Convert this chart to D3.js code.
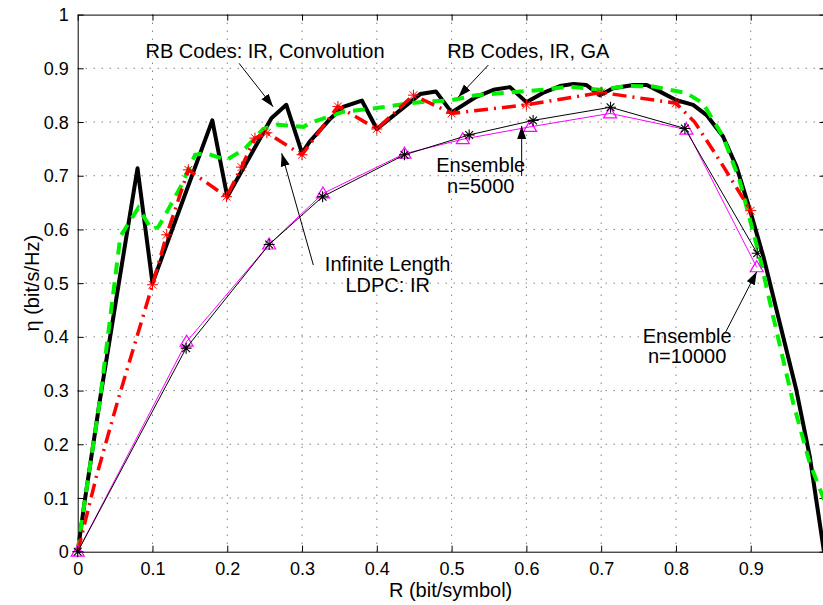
<!DOCTYPE html>
<html>
<head>
<meta charset="utf-8">
<script src="https://cdn.jsdelivr.net/npm/d3@7"></script>
<style>
  body { margin: 0; background: #fff; }
  svg { display: block; font-family: "Liberation Sans", Arial, Helvetica, sans-serif; }
</style>
</head>
<body>
<div id="chart"></div>
<script>
// Tick values and labels (the "1" at the far right sits off the picture's edge)
const xTicks = [0, 0.1, 0.2, 0.3, 0.4, 0.5, 0.6, 0.7, 0.8, 0.9, 1];
const xTickLabels = ["0", "0.1", "0.2", "0.3", "0.4", "0.5", "0.6", "0.7", "0.8", "0.9", ""];
const yTicks = [0, 0.1, 0.2, 0.3, 0.4, 0.5, 0.6, 0.7, 0.8, 0.9, 1];
const yTickLabels = ["0", "0.1", "0.2", "0.3", "0.4", "0.5", "0.6", "0.7", "0.8", "0.9", "1"];

// RB Codes: IR, Convolution (thick black)
const convR = [0, 0.01, 0.03, 0.055, 0.08, 0.1, 0.18, 0.2, 0.259, 0.279, 0.3, 0.31, 0.337, 0.355, 0.38, 0.4,
  0.426, 0.458, 0.479, 0.5, 0.533, 0.556, 0.578, 0.6, 0.622, 0.645, 0.663, 0.68, 0.698, 0.716, 0.743, 0.761,
  0.778, 0.8, 0.823, 0.841, 0.863, 0.881, 0.899, 0.917, 0.939, 0.961, 0.979, 0.998];
const convEta = [0, 0.1, 0.285, 0.5, 0.714, 0.5, 0.803, 0.661, 0.807, 0.832, 0.742, 0.763, 0.805, 0.828, 0.84, 0.787,
  0.816, 0.852, 0.857, 0.818, 0.847, 0.86, 0.865, 0.837, 0.854, 0.867, 0.871, 0.869, 0.85, 0.863, 0.869, 0.869,
  0.857, 0.841, 0.832, 0.813, 0.773, 0.717, 0.636, 0.549, 0.425, 0.301, 0.177, 0];

// RB Codes, IR, GA (green dashed)
const gaR = [0, 0.01, 0.03, 0.057, 0.081, 0.099, 0.108, 0.123, 0.139, 0.157, 0.172, 0.199, 0.224, 0.248, 0.266,
  0.302, 0.31, 0.355, 0.4, 0.444, 0.467, 0.498, 0.533, 0.578, 0.622, 0.658, 0.698, 0.734, 0.77, 0.814, 0.836,
  0.863, 0.885, 0.912, 0.93, 0.957, 0.979, 1];
const gaEta = [0, 0.1, 0.285, 0.587, 0.64, 0.6, 0.605, 0.642, 0.683, 0.739, 0.742, 0.729, 0.751, 0.787, 0.795,
  0.791, 0.798, 0.819, 0.826, 0.835, 0.838, 0.84, 0.85, 0.855, 0.86, 0.866, 0.86, 0.867, 0.866, 0.854, 0.835,
  0.773, 0.692, 0.549, 0.438, 0.276, 0.165, 0.09];

// Infinite Length LDPC: IR (red dash-dot, stars)
const ldpcR = [0, 0.025, 0.054, 0.1, 0.119, 0.148, 0.199, 0.219, 0.237, 0.253, 0.3, 0.348, 0.4, 0.449, 0.5,
  0.6, 0.7, 0.8, 0.825, 0.86, 0.9];
const ldpcEta = [0, 0.14, 0.283, 0.497, 0.59, 0.711, 0.661, 0.716, 0.77, 0.78, 0.739, 0.829, 0.787, 0.85, 0.816,
  0.832, 0.855, 0.835, 0.8, 0.725, 0.635];
const ldpcStarR = [0.1, 0.119, 0.148, 0.199, 0.219, 0.237, 0.253, 0.3, 0.348, 0.4, 0.449, 0.5, 0.6, 0.7, 0.8, 0.9];
const ldpcStarEta = [0.497, 0.59, 0.711, 0.661, 0.716, 0.77, 0.78, 0.739, 0.829, 0.787, 0.85, 0.816, 0.832, 0.855, 0.835, 0.635];

// Ensemble n=5000 (thin black, stars)
const ens5R = [0, 0.145, 0.256, 0.3275, 0.437, 0.5235, 0.609, 0.7125, 0.812, 0.9086];
const ens5Eta = [0, 0.379, 0.572, 0.661, 0.739, 0.776, 0.803, 0.8275, 0.788, 0.5557];

// Ensemble n=10000 (magenta, triangles)
const ens10R = [0, 0.1457, 0.256, 0.328, 0.437, 0.515, 0.605, 0.712, 0.814, 0.908];
const ens10Eta = [0, 0.391, 0.572, 0.667, 0.741, 0.768, 0.791, 0.816, 0.786, 0.5296];

// Annotations (data units)
const notes = [
  { lines: ["RB Codes: IR, Convolution"], x: 0.2505, y: [0.9186] },
  { lines: ["RB Codes, IR, GA"], x: 0.6026, y: [0.9186] },
  { lines: ["Infinite Length", "LDPC: IR"], x: 0.4145, y: [0.5232, 0.4841] },
  { lines: ["Ensemble", "n=5000"], x: 0.539, y: [0.7075, 0.6673] },
  { lines: ["Ensemble", "n=10000"], x: 0.815, y: [0.388, 0.3508] }
];
const arrows = [
  [0.2158, 0.9093, 0.2613, 0.8285],
  [0.5491, 0.9061, 0.5090, 0.8467],
  [0.3151, 0.5338, 0.2728, 0.7417],
  [0.5937, 0.6995, 0.5937, 0.7926],
  [0.8656, 0.4066, 0.9080, 0.5213]
];

const W = 823, H = 605;
const svg = d3.select("#chart").append("svg").attr("width", W).attr("height", H);

const x = d3.scaleLinear().domain([0, 1]).range([77.7, 825.5]);
const y = d3.scaleLinear().domain([0, 1]).range([551.7, 14.6]);

// Grid
const grid = svg.append("g")
  .attr("stroke", "#444")
  .attr("stroke-width", 1)
  .attr("stroke-dasharray", "1,7");
grid.selectAll(".gx").data(xTicks.slice(1, -1)).join("line")
  .attr("x1", d => x(d)).attr("x2", d => x(d))
  .attr("y1", y(0)).attr("y2", y(1));
grid.selectAll(".gy").data(yTicks.slice(1, -1)).join("line")
  .attr("y1", d => y(d)).attr("y2", d => y(d))
  .attr("x1", x(0)).attr("x2", x(1));

// Axes
const styleAxis = g => {
  g.attr("font-family", null).attr("font-size", null);
  g.select(".domain").attr("stroke", "#000");
  g.selectAll(".tick line").attr("stroke", "#000");
};

svg.append("g")
  .attr("transform", `translate(0,${y(0)})`)
  .call(d3.axisBottom(x).tickValues(xTicks).tickFormat((d, i) => xTickLabels[i]).tickSizeInner(-6).tickSizeOuter(0))
  .call(styleAxis)
  .call(g => g.selectAll("text").attr("y", 23.5).attr("dy", null).attr("fill", "#000").style("font-size", "18px"));

svg.append("g")
  .attr("transform", `translate(${x(0)},0)`)
  .call(d3.axisLeft(y).tickValues(yTicks).tickFormat((d, i) => yTickLabels[i]).tickSizeInner(-6).tickSizeOuter(0))
  .call(styleAxis)
  .call(g => g.selectAll("text").attr("x", -9).attr("dy", "0.34em").attr("fill", "#000").style("font-size", "18px"));

svg.append("g")
  .attr("transform", `translate(0,${y(1)})`)
  .call(d3.axisTop(x).tickValues(xTicks).tickFormat("").tickSizeInner(-6).tickSizeOuter(0))
  .call(styleAxis);

svg.append("g")
  .attr("transform", `translate(${x(1)},0)`)
  .call(d3.axisRight(y).tickValues(yTicks).tickFormat("").tickSizeInner(-6).tickSizeOuter(0))
  .call(styleAxis);

// Axis labels
svg.append("text")
  .attr("x", (x(0) + x(1)) / 2 - 1).attr("y", 596.5)
  .attr("text-anchor", "middle").style("font-size", "20px")
  .text("R (bit/symbol)");

svg.append("text")
  .attr("transform", `translate(39,${(y(0) + y(1)) / 2}) rotate(-90)`)
  .attr("text-anchor", "middle").style("font-size", "20px")
  .text("η (bit/s/Hz)");

// Curves
const line = d3.line().x(d => x(d[0])).y(d => y(d[1]));
const zip = (a, b) => a.map((v, i) => [v, b[i]]);

const starPath = r => {
  const a = r * 0.7071;
  return `M${-r},0L${r},0M0,${-r}L0,${r}M${-a},${-a}L${a},${a}M${-a},${a}L${a},${-a}`;
};
const triPath = "M0,-6.5L6.5,4.5L-6.5,4.5Z";

const plot = svg.append("g").attr("fill", "none");

plot.append("path")
  .attr("d", line(zip(convR, convEta)))
  .attr("stroke", "#000").attr("stroke-width", 4).attr("stroke-linejoin", "round");

plot.append("path")
  .attr("d", line(zip(gaR, gaEta)))
  .attr("stroke", "#00f000").attr("stroke-width", 4)
  .attr("stroke-dasharray", "12,8");

plot.append("path")
  .attr("d", line(zip(ldpcR, ldpcEta)))
  .attr("stroke", "#ff0000").attr("stroke-width", 3.5)
  .attr("stroke-dasharray", "14,6,2,6");

plot.selectAll(".ldpc-star").data(zip(ldpcStarR, ldpcStarEta)).join("path")
  .attr("class", "ldpc-star")
  .attr("transform", d => `translate(${x(d[0])},${y(d[1])})`)
  .attr("d", starPath(5.5))
  .attr("stroke", "#ff0000").attr("stroke-width", 1);

plot.append("path")
  .attr("d", line(zip(ens10R, ens10Eta)))
  .attr("stroke", "#ff00ff").attr("stroke-width", 1);

plot.selectAll(".ens10-tri").data(zip(ens10R, ens10Eta)).join("path")
  .attr("class", "ens10-tri")
  .attr("transform", d => `translate(${x(d[0])},${y(d[1])})`)
  .attr("d", triPath)
  .attr("stroke", "#ff00ff").attr("stroke-width", 1.2);

plot.append("path")
  .attr("d", line(zip(ens5R, ens5Eta)))
  .attr("stroke", "#000").attr("stroke-width", 1);

plot.selectAll(".ens5-star").data(zip(ens5R, ens5Eta)).join("path")
  .attr("class", "ens5-star")
  .attr("transform", d => `translate(${x(d[0])},${y(d[1])})`)
  .attr("d", starPath(5.5))
  .attr("stroke", "#000").attr("stroke-width", 1.1);

// Annotations
svg.append("defs").append("marker")
  .attr("id", "head")
  .attr("viewBox", "0 -5 13 10")
  .attr("refX", 13).attr("refY", 0)
  .attr("markerWidth", 13).attr("markerHeight", 10)
  .attr("markerUnits", "userSpaceOnUse")
  .attr("orient", "auto")
  .append("path").attr("d", "M0,-4.5L13,0L0,4.5Z").attr("fill", "#000");

svg.append("g").selectAll("line").data(arrows).join("line")
  .attr("x1", d => x(d[0])).attr("y1", d => y(d[1]))
  .attr("x2", d => x(d[2])).attr("y2", d => y(d[3]))
  .attr("stroke", "#000").attr("stroke-width", 1)
  .attr("marker-end", "url(#head)");

const noteG = svg.append("g").attr("text-anchor", "middle").style("font-size", "20px");
notes.forEach(n => {
  n.lines.forEach((t, i) => {
    noteG.append("text").attr("x", x(n.x)).attr("y", y(n.y[i])).text(t);
  });
});
</script>
</body>
</html>
